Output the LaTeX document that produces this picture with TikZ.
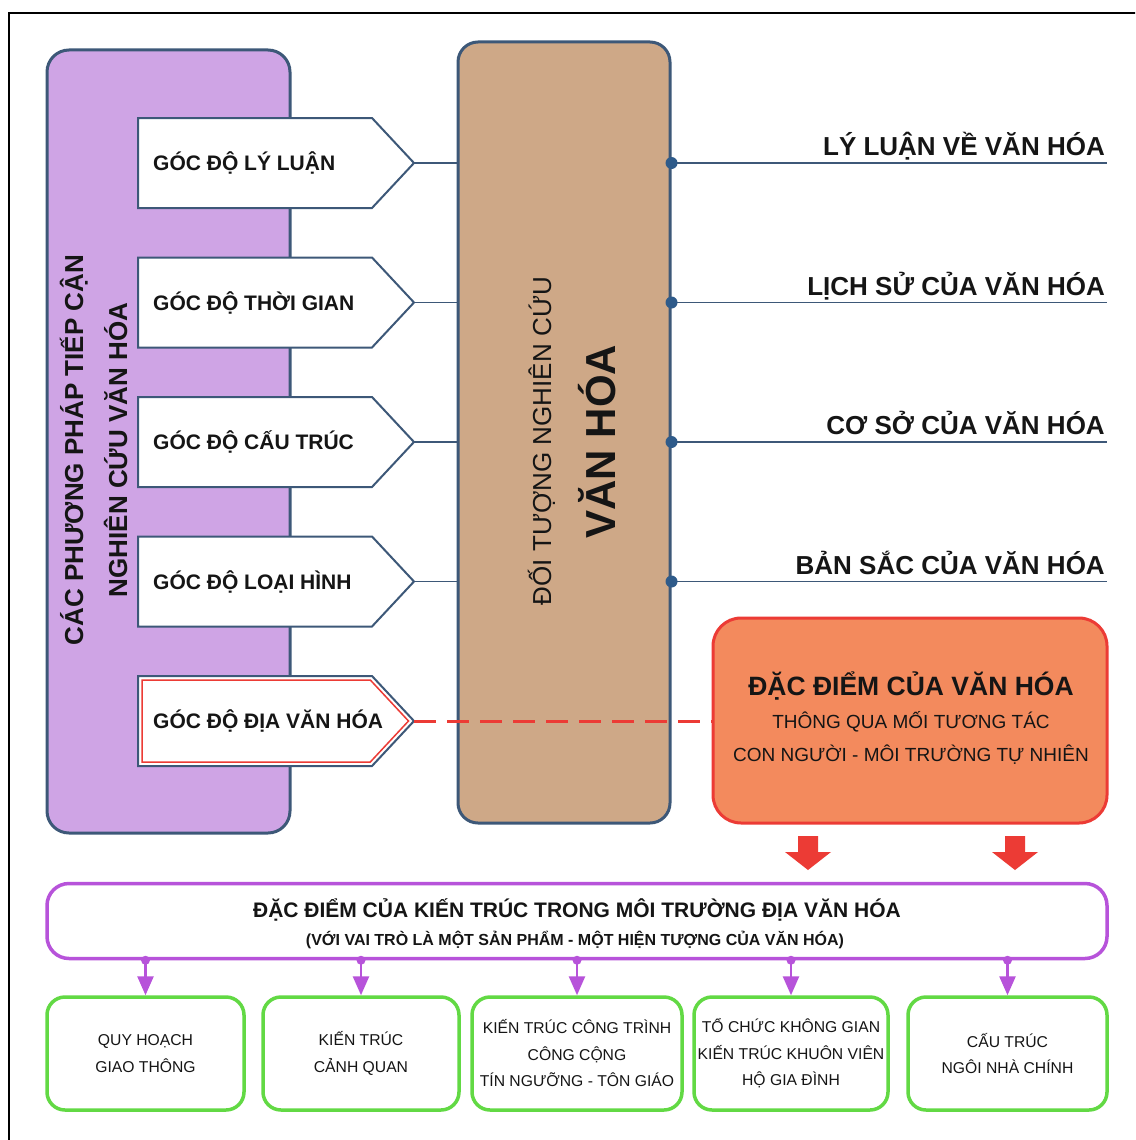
\documentclass[tikz,border=0pt]{standalone}
\usepackage{fontspec}
\setmainfont{Liberation Sans}
\usetikzlibrary{arrows.meta,calc}
\definecolor{frameblue}{HTML}{3D5878}
\definecolor{lavfill}{HTML}{CFA4E5}
\definecolor{brownfill}{HTML}{CEA887}
\definecolor{dotblue}{HTML}{2F5B8A}
\definecolor{orangefill}{HTML}{F38A5D}
\definecolor{redline}{HTML}{EC3B35}
\definecolor{magline}{HTML}{B753DA}
\definecolor{greenline}{HTML}{62D944}
\definecolor{inktext}{HTML}{151515}
\begin{document}
\begin{tikzpicture}[x=1pt,y=-1pt,
  panel/.style={draw=frameblue,line width=3pt,rounded corners=22pt,inner sep=0pt},
  penta/.style={draw=frameblue,line width=2pt,fill=white,line join=miter},
  goc/.style={font=\bfseries\fontsize{21}{25}\selectfont,text=inktext,inner sep=0pt},
  conn/.style={draw=frameblue,line width=1.6pt},
  rlabel/.style={font=\bfseries\fontsize{26}{30}\selectfont,text=inktext,inner sep=0pt},
  obox/.style={draw=redline,line width=3pt,fill=orangefill,rounded corners=28pt,inner sep=0pt},
  wbox/.style={draw=magline,line width=3.5pt,fill=white,rounded corners=22pt,inner sep=0pt},
  gbox/.style={draw=greenline,line width=3.5pt,fill=white,rounded corners=18pt,inner sep=0pt,align=center,
     font=\fontsize{15.7}{26.5}\selectfont,text=inktext},
  parrow/.style={draw=magline,line width=2.6pt,-{Triangle[length=19pt,width=16pt]}},
  dashline/.style={draw=redline,line width=3pt,dash pattern=on 22pt off 11pt},
  rottext/.style={rotate=90,anchor=base,inner sep=0pt,text=inktext}
]
\useasboundingbox (0,0) rectangle (1135,1140);
\clip (0,0) rectangle (1135,1140);
\fill[white] (0,0) rectangle (1135,1140);
\draw[line width=2.5pt] (9,13) rectangle (1160,1170);

% panels
\node[panel,fill=lavfill,minimum width=243pt,minimum height=783pt] (pp) at (168.5,441.5) {};
\node[panel,fill=brownfill,rounded corners=20pt,minimum width=212pt,minimum height=781pt] (bp) at (564,432.5) {};

\node[rottext,font=\bfseries\fontsize{26}{30}\selectfont] (pt1) at (83,450) {CÁC PHƯƠNG PHÁP TIẾP CẬN};
\node[rottext,font=\bfseries\fontsize{26}{30}\selectfont] (pt2) at (127,450) {NGHIÊN CỨU VĂN HÓA};
\node[rottext,font=\fontsize{26}{30}\selectfont] (bt1) at (551,441) {ĐỐI TƯỢNG NGHIÊN CỨU};
\node[rottext,font=\bfseries\fontsize{42}{48}\selectfont] (bt2) at (615,441.5) {VĂN HÓA};

% pentagons
\foreach \i/\t in {1/GÓC ĐỘ LÝ LUẬN,2/GÓC ĐỘ THỜI GIAN,3/GÓC ĐỘ CẤU TRÚC,4/GÓC ĐỘ LOẠI HÌNH,5/GÓC ĐỘ ĐỊA VĂN HÓA}{
  \pgfmathsetmacro\yy{163+139.5*(\i-1)}
  \draw[penta] (138,\yy-45) -- (372,\yy-45) -- (414,\yy) -- (372,\yy+45) -- (138,\yy+45) -- cycle;
  \coordinate (tip\i) at (414,\yy);
  \node[goc,anchor=base west] (g\i) at (153,\yy+7.5) {\t};
}
\draw[draw=redline,line width=1.5pt,line join=miter] (142,680) -- (370.3,680) -- (408.5,721) -- (370.3,762) -- (142,762) -- cycle;

% left connectors
\foreach \i in {1,...,4}{
  \draw[conn] (tip\i) -- (tip\i -| bp.west);
}

% orange box
\node[obox,minimum width=394pt,minimum height=205pt] (ob) at (910,720.5) {};
\node[anchor=base,inner sep=0pt,text=inktext,font=\bfseries\fontsize{26.5}{30}\selectfont] (ot1) at (911,695) {ĐẶC ĐIỂM CỦA VĂN HÓA};
\node[anchor=base,inner sep=0pt,text=inktext,font=\fontsize{19}{24}\selectfont] (ot2) at (911,728.5) {THÔNG QUA MỐI TƯƠNG TÁC};
\node[anchor=base,inner sep=0pt,text=inktext,font=\fontsize{19}{24}\selectfont] (ot3) at (911,761.5) {CON NGƯỜI - MÔI TRƯỜNG TỰ NHIÊN};

\draw[dashline] (tip5) -- (tip5 -| ob.west);

% right labels
\foreach \i/\t in {1/LÝ LUẬN VỀ VĂN HÓA,2/LỊCH SỬ CỦA VĂN HÓA,3/CƠ SỞ CỦA VĂN HÓA,4/BẢN SẮC CỦA VĂN HÓA}{
  \pgfmathsetmacro\yy{163+139.5*(\i-1)}
  \coordinate (rd\i) at (bp.east |- tip\i);
  \coordinate (re\i) at (1107,\yy);
  \draw[conn] (rd\i) -- (re\i);
  \fill[dotblue] (rd\i) circle (6pt);
  \node[rlabel,anchor=base east] (r\i) at (1105,\yy-7.5) {\t};
}

% red block arrows
\coordinate (ra1) at (808,836);
\coordinate (ra2) at (1015,836);
\foreach \c in {ra1,ra2}{
  \fill[redline] (\c) ++(-10,0) -- ++(20,0) -- ++(0,16) -- ++(13,0) -- ++(-23,18) -- ++(-23,-18) -- ++(13,0) -- cycle;
}

% wide box
\node[wbox,minimum width=1060pt,minimum height=75pt] (wb) at (577,921) {};
\node[anchor=base,inner sep=0pt,text=inktext,font=\bfseries\fontsize{21}{25}\selectfont] (wt1) at (577,917) {ĐẶC ĐIỂM CỦA KIẾN TRÚC TRONG MÔI TRƯỜNG ĐỊA VĂN HÓA};
\node[anchor=base,inner sep=0pt,text=inktext,font=\bfseries\fontsize{16}{19}\selectfont] (wt2) at (575,945) {(VỚI VAI TRÒ LÀ MỘT SẢN PHẨM - MỘT HIỆN TƯỢNG CỦA VĂN HÓA)};

% green boxes
\node[gbox,minimum width=197pt,minimum height=113pt] (gb1) at (145.5,1053.5) {QUY HOẠCH\\GIAO THÔNG};
\node[gbox,minimum width=196pt,minimum height=113pt] (gb2) at (361,1053.5) {KIẾN TRÚC\\CẢNH QUAN};
\node[gbox,minimum width=210pt,minimum height=113pt] (gb3) at (577,1053.5) {KIẾN TRÚC CÔNG TRÌNH\\CÔNG CỘNG\\TÍN NGƯỠNG - TÔN GIÁO};
\node[gbox,minimum width=194pt,minimum height=113pt] (gb4) at (791,1053.5) {TỔ CHỨC KHÔNG GIAN\\KIẾN TRÚC KHUÔN VIÊN\\HỘ GIA ĐÌNH};
\node[gbox,minimum width=199pt,minimum height=113pt] (gb5) at (1007.5,1053.5) {CẤU TRÚC\\NGÔI NHÀ CHÍNH};

\foreach \i in {1,...,5}{
  \coordinate (pa\i) at (gb\i.north |- wb.south);
  \draw[parrow] (pa\i) -- (gb\i.north);
  \fill[magline] (pa\i) circle (4.5pt);
}
\end{tikzpicture}
\end{document}
